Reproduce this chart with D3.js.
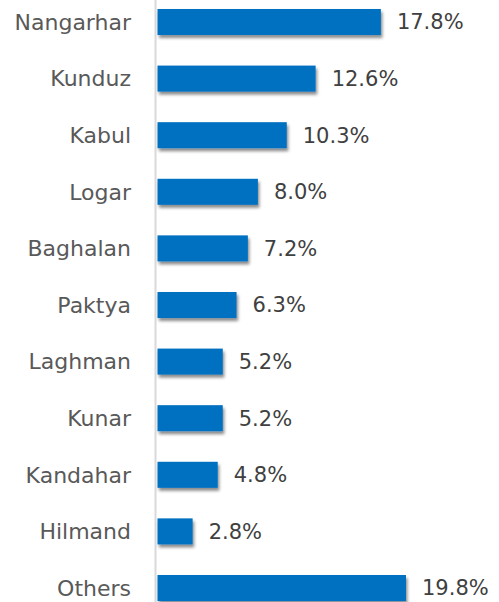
<!DOCTYPE html>
<html>
<head>
<meta charset="utf-8">
<script src="https://cdn.jsdelivr.net/npm/d3@7"></script>
<style>
  body { margin: 0; background: #fff; }
  text { font-family: "DejaVu Sans", sans-serif; }
</style>
</head>
<body>
<div class="canvas"></div>
<script>
// Data
const provinces = ['Nangarhar', 'Kunduz', 'Kabul', 'Logar', 'Baghalan', 'Paktya',
  'Laghman', 'Kunar', 'Kandahar', 'Hilmand', 'Others']
const shares = [17.8, 12.6, 10.3, 8.0, 7.2, 6.3, 5.2, 5.2, 4.8, 2.8, 19.8]

const width = 499
const height = 602

const svg = d3.select('.canvas')
  .append('svg')
  .attr('width', width)
  .attr('height', height)

// Drop shadow under the bars
const defs = svg.append('defs')
defs.append('filter')
  .attr('id', 'shadow')
  .attr('x', '-10%').attr('y', '-30%')
  .attr('width', '130%').attr('height', '180%')
  .append('feDropShadow')
  .attr('dx', 1.5)
  .attr('dy', 3)
  .attr('stdDeviation', 1.8)
  .attr('flood-color', '#000')
  .attr('flood-opacity', 0.45)

const x0 = 157.5

// Scales
const x = d3.scaleLinear()
  .domain([0, 1])
  .range([x0, x0 + 12.55])

const y = d3.scaleBand()
  .domain(provinces)
  .range([-6.3, 616.3])
  .paddingInner(0.54)
  .paddingOuter(0.27)

// Axis line
svg.append('line')
  .attr('x1', 155.5).attr('x2', 155.5)
  .attr('y1', 0).attr('y2', height)
  .attr('stroke', '#d9d9d9')
  .attr('stroke-width', 2)

const data = provinces.map((p, i) => ({ name: p, value: shares[i] }))

// Bars
svg.selectAll('rect.bar')
  .data(data)
  .enter()
  .append('rect')
  .attr('class', 'bar')
  .attr('x', x(0))
  .attr('y', d => y(d.name))
  .attr('width', d => x(d.value) - x(0))
  .attr('height', y.bandwidth())
  .attr('fill', '#0070c0')
  .attr('filter', 'url(#shadow)')

// Category labels
svg.selectAll('text.cat')
  .data(data)
  .enter()
  .append('text')
  .attr('class', 'cat')
  .attr('x', 131)
  .attr('y', d => y(d.name) + y.bandwidth() / 2)
  .attr('dy', '0.35em')
  .attr('text-anchor', 'end')
  .attr('font-size', 22)
  .attr('fill', '#595959')
  .text(d => d.name)

// Value labels
svg.selectAll('text.val')
  .data(data)
  .enter()
  .append('text')
  .attr('class', 'val')
  .attr('x', d => x(d.value) + 16)
  .attr('y', d => y(d.name) + y.bandwidth() / 2)
  .attr('dy', '0.35em')
  .attr('font-size', 21)
  .attr('fill', '#404040')
  .text(d => d.value.toFixed(1) + '%')
</script>
</body>
</html>
